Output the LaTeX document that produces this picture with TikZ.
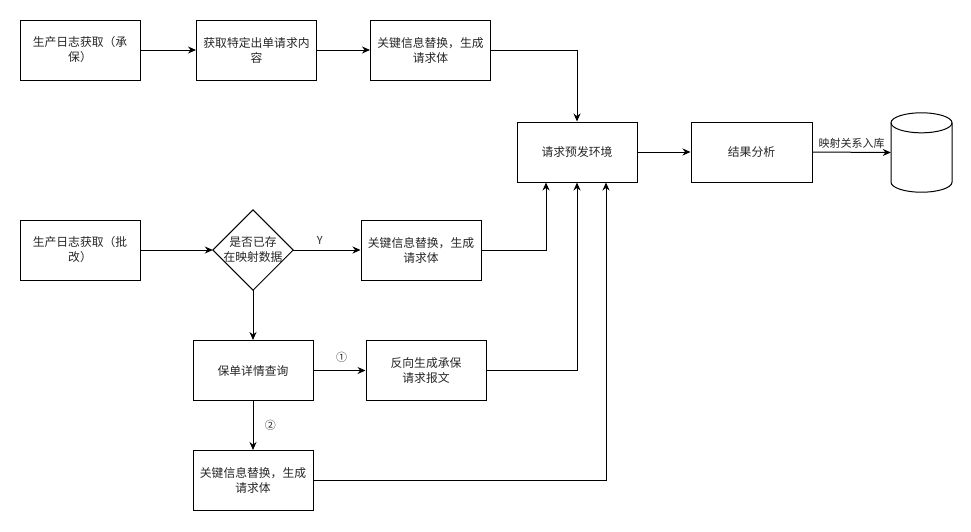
\documentclass[tikz,border=0pt]{standalone}
\usepackage{fontspec}
\setmainfont{Noto Sans CJK SC}
\usetikzlibrary{arrows.meta,calc}
\begin{document}
\begin{tikzpicture}[x=1pt,y=-1pt,
  box/.style={draw,line width=1pt,minimum width=120pt,minimum height=60pt,inner sep=0pt,align=center,font=\fontsize{11.8}{15}\selectfont,text=black!85},
  conn/.style={line width=1pt,-{Stealth[length=8pt,width=7pt]}},
  plain/.style={line width=1pt},
  lbl/.style={font=\fontsize{11}{13}\selectfont,text=black!85}]
\useasboundingbox[fill=white] (0,0) rectangle (971,531);
% top row
\node[box] (a1) at (80,50) {生产日志获取（承\\保）};
\node[box] (a2) at (256.5,50) {获取特定出单请求内\\容};
\node[box] (a3) at (430.5,50) {关键信息替换，生成\\请求体};
\node[box] (env) at (577,152) {请求预发环境};
\node[box,minimum width=121pt] (res) at (751.5,152) {结果分析};
% cylinder
\node[minimum width=61pt,minimum height=79pt,inner sep=0pt] (db) at (921.5,152.5) {};
\coordinate (dbt) at ($(db.north)+(0,10)$);
\coordinate (dbb) at ($(db.south)+(0,-10)$);
\draw[plain] (dbt) ellipse[x radius=30.5pt,y radius=10pt];
\draw[plain] ($(dbt)+(-30.5,0)$) -- ($(dbb)+(-30.5,0)$)
  arc[start angle=180,end angle=360,x radius=30.5pt,y radius=10pt]
  -- ($(dbt)+(30.5,0)$);
% second row
\node[box] (b1) at (80,250) {生产日志获取（批\\改）};
\node[minimum width=80pt,minimum height=80pt,inner sep=0pt,align=center,font=\fontsize{11.8}{15}\selectfont,text=black!85] (dia) at (253,250) {是否已存\\在映射数据};
\draw[plain] (dia.north) -- (dia.east) -- (dia.south) -- (dia.west) -- cycle;
\node[box] (b3) at (421,250) {关键信息替换，生成\\请求体};
\node[box] (q) at (253,370.5) {保单详情查询};
\node[box] (rev) at (426,370.5) {反向生成承保\\请求报文};
\node[box] (b4) at (253,480.5) {关键信息替换，生成\\请求体};
\coordinate (e1) at ($(env.south)+(-31,0)$);
\coordinate (e3) at ($(env.south)+(29,0)$);
% connectors
\draw[conn] (a1) -- (a2);
\draw[conn] (a2) -- (a3);
\draw[conn] (a3.east) -| (env.north);
\draw[conn] (env) -- (res);
\draw[conn] (res.east) -- node[lbl,above,pos=0.5] {映射关系入库} (db.west);
\draw[conn] (b1.east) -- (dia.west);
\draw[conn] (dia.east) -- node[lbl,above,yshift=2pt,xshift=-7pt] {Y} (b3.west);
\draw[conn] (b3.east) -| (e1);
\draw[conn] (dia.south) -- (q.north);
\draw[conn] (q) -- node[lbl,above,yshift=4pt,xshift=2pt] {①} (rev);
\draw[conn] (rev.east) -| (env.south);
\draw[conn] (q) -- node[lbl,right,xshift=8pt] {②} (b4);
\draw[conn] (b4.east) -| (e3);
\end{tikzpicture}
\end{document}
